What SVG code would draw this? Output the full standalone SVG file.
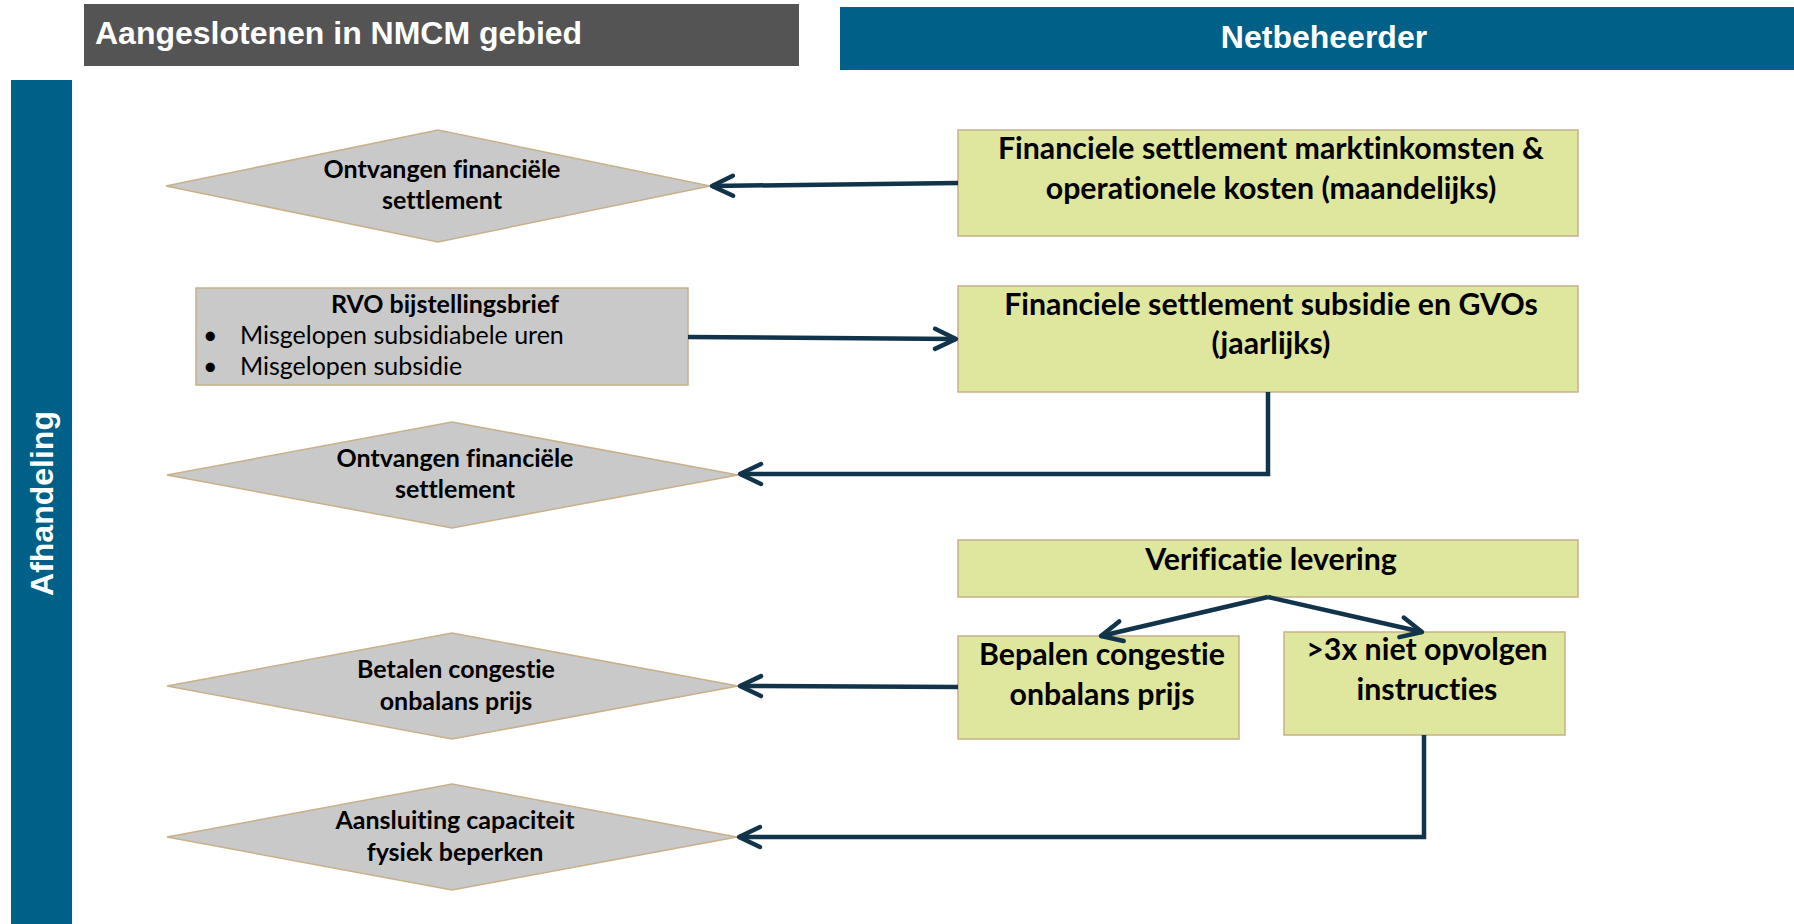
<svg xmlns="http://www.w3.org/2000/svg" width="1794" height="924" viewBox="0 0 1794 924">
<defs>
<style>
.hdr{font-family:"Liberation Sans",Arial,sans-serif;font-weight:bold;font-size:32px;fill:#fff}
.dia{fill:#c9c9c9;stroke:#c8b08a;stroke-width:1.5}
.box{fill:#dfe69d;stroke:#c8b08a;stroke-width:1.5}
.t{font-family:Lato,"Noto Sans",sans-serif;fill:#000;text-anchor:middle;font-variant-ligatures:none;font-feature-settings:"liga" 0}
.s{text-anchor:start}
.b{font-weight:bold}
.dt{font-size:25px}
.rt{font-size:25px}
.bt{font-size:30.3px}
.conn{fill:none;stroke:#12344a;stroke-width:4.5;stroke-linejoin:miter}
</style>
<marker id="arr" markerUnits="userSpaceOnUse" viewBox="-26 -14 30 28" markerWidth="30" markerHeight="28" refX="0" refY="0" orient="auto">
<path d="M-21,-10 L0,0 L-21,10" fill="none" stroke="#12344a" stroke-width="4.5" stroke-linecap="round" stroke-linejoin="round"/>
</marker>
</defs>
<rect width="1794" height="924" fill="#fff"/>
<g id="header-left">
<rect x="84" y="4" width="715" height="62" fill="#545454"/>
<text class="hdr" x="95" y="44">Aangeslotenen in NMCM gebied</text>
</g>
<g id="header-right">
<rect x="840" y="7" width="954" height="63" fill="#006088"/>
<text class="hdr" x="1324" y="48" text-anchor="middle">Netbeheerder</text>
</g>
<g id="lane-afhandeling">
<rect x="11" y="80" width="61" height="844" fill="#006088"/>
<text class="hdr" transform="translate(53,503.5) rotate(-90)" text-anchor="middle">Afhandeling</text>
</g>
<g id="d1">
<polygon class="dia" points="166,186 438,130 710,186 438,242"/>
<text class="t b dt" x="442" y="178">Ontvangen financiële</text>
<text class="t b dt" x="442" y="209">settlement</text>
</g>
<g id="rvo">
<rect class="dia" x="196" y="288" width="492" height="97"/>
<text class="t b rt" x="445" y="313">RVO bijstellingsbrief</text>
<text class="t rt s" x="203" y="344">•</text>
<text class="t rt s" x="240" y="344">Misgelopen subsidiabele uren</text>
<text class="t rt s" x="203" y="375">•</text>
<text class="t rt s" x="240" y="375">Misgelopen subsidie</text>
</g>
<g id="d2">
<polygon class="dia" points="167,475 452,422 738,475 452,528"/>
<text class="t b dt" x="455" y="467">Ontvangen financiële</text>
<text class="t b dt" x="455" y="498">settlement</text>
</g>
<g id="d3">
<polygon class="dia" points="167,686 452,633 738,686 452,739"/>
<text class="t b dt" x="456" y="678">Betalen congestie</text>
<text class="t b dt" x="456" y="710">onbalans prijs</text>
</g>
<g id="d4">
<polygon class="dia" points="167,837 452,784 737,837 452,890"/>
<text class="t b dt" x="455" y="829">Aansluiting capaciteit</text>
<text class="t b dt" x="455" y="861">fysiek beperken</text>
</g>
<g id="box1">
<rect class="box" x="958" y="130" width="620" height="106"/>
<text class="t b bt" x="1271" y="159">Financiele settlement marktinkomsten &amp;</text>
<text class="t b bt" x="1271" y="199">operationele kosten (maandelijks)</text>
</g>
<g id="box2">
<rect class="box" x="958" y="286" width="620" height="106"/>
<text class="t b bt" x="1271" y="315">Financiele settlement subsidie en GVOs</text>
<text class="t b bt" x="1271" y="354">(jaarlijks)</text>
</g>
<g id="box3">
<rect class="box" x="958" y="540" width="620" height="57"/>
<text class="t b bt" x="1271" y="570">Verificatie levering</text>
</g>
<g id="box4">
<rect class="box" x="958" y="636" width="281" height="103"/>
<text class="t b bt" x="1102" y="665">Bepalen congestie</text>
<text class="t b bt" x="1102" y="705">onbalans prijs</text>
</g>
<g id="box5">
<rect class="box" x="1284" y="632" width="281" height="103"/>
<text class="t b bt" x="1427" y="660">&gt;3x niet opvolgen</text>
<text class="t b bt" x="1427" y="700">instructies</text>
</g>
<g id="connectors">
<path class="conn" d="M958,183 L712,186" marker-end="url(#arr)"/>
<path class="conn" d="M688,337 L956,339" marker-end="url(#arr)"/>
<path class="conn" d="M1268,392 L1268,474 L740,474" marker-end="url(#arr)"/>
<path class="conn" d="M958,687 L740,686" marker-end="url(#arr)"/>
<path class="conn" d="M1268,597 L1101,636" marker-end="url(#arr)"/>
<path class="conn" d="M1268,597 L1422,632" marker-end="url(#arr)"/>
<path class="conn" d="M1424,735 L1424,837 L739,837" marker-end="url(#arr)"/>
</g>
</svg>
